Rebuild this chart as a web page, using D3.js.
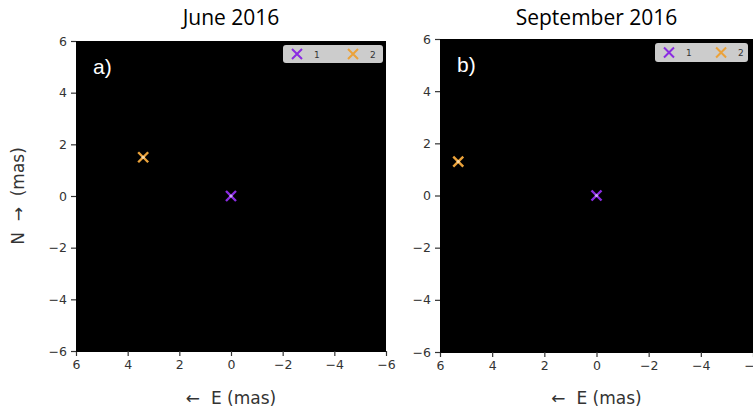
<!DOCTYPE html>
<html><head><meta charset="utf-8">
<script src="https://cdn.jsdelivr.net/npm/d3@7"></script>
<style>body{margin:0;background:#fff}svg{display:block}</style>
</head><body>
<svg id="c" width="753" height="413"></svg>
<script>
const panelTitles = ["June 2016", "September 2016"];
const panelLetters = ["a)", "b)"];
const seriesNames = ["1", "2"];
const seriesColors = ["#8a2be2", "#eba23a"];
const juneE = [0, 3.4];
const juneN = [0, 1.5];
const septE = [0, 5.3];
const septN = [0, 1.3];
const tickValues = [6, 4, 2, 0, -2, -4, -6];
const xLabel = "\u2190  E (mas)";
const yLabel = "N  \u2192  (mas)";

const svg = d3.select("#c");
const panels = [
  {x0: 76, x1: 386, y0: 41, y1: 351, e: juneE, n: juneN, leg: [283, 45, 100, 18]},
  {x0: 440, x1: 753, y0: 39, y1: 352, e: septE, n: septN, leg: [655, 43, 93, 19]}
];
const fmt = v => (v < 0 ? "\u2212" + Math.abs(v) : String(v));

function xMark(g, cx, cy, r, color, w) {
  g.append("path")
    .attr("d", `M${cx - r},${cy - r}L${cx + r},${cy + r}M${cx - r},${cy + r}L${cx + r},${cy - r}`)
    .attr("stroke", color).attr("stroke-width", w).attr("fill", "none");
}

panels.forEach((p, i) => {
  const x = d3.scaleLinear().domain([6, -6]).range([p.x0, p.x1]);
  const y = d3.scaleLinear().domain([-6, 6]).range([p.y1, p.y0]);
  const g = svg.append("g");
  g.append("rect").attr("x", p.x0).attr("y", p.y0)
    .attr("width", p.x1 - p.x0).attr("height", p.y1 - p.y0).attr("fill", "#000");

  const xa = g.append("g").attr("transform", `translate(0,${p.y1})`)
    .call(d3.axisBottom(x).tickValues(tickValues).tickFormat(fmt).tickSize(5).tickPadding(4));
  const ya = g.append("g").attr("transform", `translate(${p.x0},0)`)
    .call(d3.axisLeft(y).tickValues(tickValues).tickFormat(fmt).tickSize(5).tickPadding(4));
  [xa, ya].forEach(a => {
    a.select(".domain").attr("stroke", "#000");
    a.selectAll(".tick line").attr("stroke", "#333").attr("stroke-width", 1.2);
    a.selectAll("text").attr("fill", "#333").style("font-family", "DejaVu Sans").style("font-size", "12.5px");
  });

  g.append("text").attr("x", (p.x0 + p.x1) / 2).attr("y", 25).attr("text-anchor", "middle")
    .style("font-family", "Open Sans").style("font-size", "21px").attr("fill", "#000")
    .text(panelTitles[i]);
  g.append("text").attr("x", (p.x0 + p.x1) / 2).attr("y", 404).attr("text-anchor", "middle")
    .style("font-family", "DejaVu Sans").style("font-size", "17px").attr("fill", "#333")
    .style("white-space", "pre").text(xLabel);
  g.append("text").attr("x", p.x0 + 17).attr("y", p.y0 + 33)
    .style("font-family", "Liberation Sans").style("font-size", "21px").attr("fill", "#fff")
    .text(panelLetters[i]);

  // points
  p.e.forEach((ev, k) => {
    const cx = x(ev), cy = y(p.n[k]);
    xMark(g, cx, cy, 5, seriesColors[k], 2.4);
    g.append("circle").attr("cx", cx).attr("cy", cy).attr("r", 1.6)
      .attr("fill", k === 0 ? "#c9a8f0" : "#f7d9a8");
  });

  // legend
  const [lx, ly, lw, lh] = p.leg;
  g.append("rect").attr("x", lx).attr("y", ly).attr("width", lw).attr("height", lh)
    .attr("rx", 3).attr("fill", "#cccccc");
  const step = lw * 0.56;
  seriesNames.forEach((s, k) => {
    const mx = lx + 14 + k * step, my = ly + lh / 2;
    xMark(g, mx, my, 5, seriesColors[k], 2);
    g.append("text").attr("x", mx + 17).attr("y", my + 3.5)
      .style("font-family", "DejaVu Sans").style("font-size", "9px").attr("fill", "#333")
      .text(s);
  });
});

svg.append("text").attr("transform", "translate(24,196) rotate(-90)").attr("text-anchor", "middle")
  .style("font-family", "DejaVu Sans").style("font-size", "17px").attr("fill", "#333")
  .style("white-space", "pre").text(yLabel);
</script>
</body></html>
